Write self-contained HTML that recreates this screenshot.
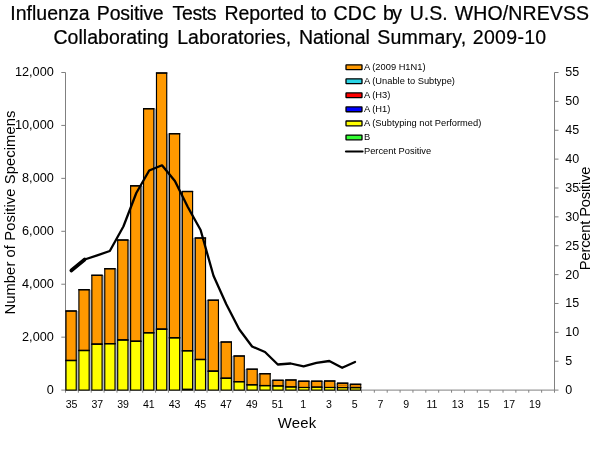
<!DOCTYPE html>
<html><head><meta charset="utf-8"><title>Influenza Positive Tests</title>
<style>html,body{margin:0;padding:0;background:#fff}svg{display:block}text{font-family:"Liberation Sans",Arial,sans-serif;fill:#000}</style>
</head><body>
<svg width="600" height="450" viewBox="0 0 600 450">
<rect width="600" height="450" fill="#fff"/>
<text y="19.7" font-size="19.5" stroke="#000" stroke-width="0.22">
<tspan x="10.24" textLength="79.28" lengthAdjust="spacing">Influenza</tspan>
<tspan x="96.84" textLength="66.87" lengthAdjust="spacing">Positive</tspan>
<tspan x="172.61" textLength="43.98" lengthAdjust="spacing">Tests</tspan>
<tspan x="224.44" textLength="79.66" lengthAdjust="spacing">Reported</tspan>
<tspan x="310.81" textLength="15.90" lengthAdjust="spacing">to</tspan>
<tspan x="333.42" textLength="42.80" lengthAdjust="spacing">CDC</tspan>
<tspan x="383.03" textLength="18.97" lengthAdjust="spacing">by</tspan>
<tspan x="409.63" textLength="38.08" lengthAdjust="spacing">U.S.</tspan>
<tspan x="454.70" textLength="134.32" lengthAdjust="spacing">WHO/NREVSS</tspan>
</text>
<text y="44.1" font-size="19.5" stroke="#000" stroke-width="0.22">
<tspan x="53.52" textLength="115.07" lengthAdjust="spacing">Collaborating</tspan>
<tspan x="177.19" textLength="114.02" lengthAdjust="spacing">Laboratories,</tspan>
<tspan x="298.94" textLength="71.02" lengthAdjust="spacing">National</tspan>
<tspan x="377.22" textLength="88.99" lengthAdjust="spacing">Summary,</tspan>
<tspan x="472.77" textLength="73.43" lengthAdjust="spacing">2009-10</tspan>
</text>
<g stroke="#808080" stroke-width="1" fill="none">
<path d="M65.5 72.5 V390.1 H554.5 V72.5"/>
<path d="M61.3 390.10 H65.5"/>
<path d="M61.3 337.17 H65.5"/>
<path d="M61.3 284.23 H65.5"/>
<path d="M61.3 231.30 H65.5"/>
<path d="M61.3 178.37 H65.5"/>
<path d="M61.3 125.43 H65.5"/>
<path d="M61.3 72.50 H65.5"/>
<path d="M554.5 390.10 H558.5"/>
<path d="M554.5 361.23 H558.5"/>
<path d="M554.5 332.35 H558.5"/>
<path d="M554.5 303.48 H558.5"/>
<path d="M554.5 274.61 H558.5"/>
<path d="M554.5 245.74 H558.5"/>
<path d="M554.5 216.86 H558.5"/>
<path d="M554.5 187.99 H558.5"/>
<path d="M554.5 159.12 H558.5"/>
<path d="M554.5 130.25 H558.5"/>
<path d="M554.5 101.37 H558.5"/>
<path d="M554.5 72.50 H558.5"/>
<path d="M65.50 390.1 V392.70000000000005"/>
<path d="M78.37 390.1 V392.70000000000005"/>
<path d="M91.24 390.1 V392.70000000000005"/>
<path d="M104.11 390.1 V392.70000000000005"/>
<path d="M116.97 390.1 V392.70000000000005"/>
<path d="M129.84 390.1 V392.70000000000005"/>
<path d="M142.71 390.1 V392.70000000000005"/>
<path d="M155.58 390.1 V392.70000000000005"/>
<path d="M168.45 390.1 V392.70000000000005"/>
<path d="M181.32 390.1 V392.70000000000005"/>
<path d="M194.18 390.1 V392.70000000000005"/>
<path d="M207.05 390.1 V392.70000000000005"/>
<path d="M219.92 390.1 V392.70000000000005"/>
<path d="M232.79 390.1 V392.70000000000005"/>
<path d="M245.66 390.1 V392.70000000000005"/>
<path d="M258.53 390.1 V392.70000000000005"/>
<path d="M271.39 390.1 V392.70000000000005"/>
<path d="M284.26 390.1 V392.70000000000005"/>
<path d="M297.13 390.1 V392.70000000000005"/>
<path d="M310.00 390.1 V392.70000000000005"/>
<path d="M322.87 390.1 V392.70000000000005"/>
<path d="M335.74 390.1 V392.70000000000005"/>
<path d="M348.61 390.1 V392.70000000000005"/>
<path d="M361.47 390.1 V392.70000000000005"/>
<path d="M374.34 390.1 V392.70000000000005"/>
<path d="M387.21 390.1 V392.70000000000005"/>
<path d="M400.08 390.1 V392.70000000000005"/>
<path d="M412.95 390.1 V392.70000000000005"/>
<path d="M425.82 390.1 V392.70000000000005"/>
<path d="M438.68 390.1 V392.70000000000005"/>
<path d="M451.55 390.1 V392.70000000000005"/>
<path d="M464.42 390.1 V392.70000000000005"/>
<path d="M477.29 390.1 V392.70000000000005"/>
<path d="M490.16 390.1 V392.70000000000005"/>
<path d="M503.03 390.1 V392.70000000000005"/>
<path d="M515.89 390.1 V392.70000000000005"/>
<path d="M528.76 390.1 V392.70000000000005"/>
<path d="M541.63 390.1 V392.70000000000005"/>
<path d="M554.50 390.1 V392.70000000000005"/>
</g>
<rect x="76.50" y="311.00" width="2.13" height="79.10" fill="#b0b8c4"/>
<rect x="89.43" y="289.70" width="2.13" height="100.40" fill="#b0b8c4"/>
<rect x="102.36" y="275.30" width="2.13" height="114.80" fill="#b0b8c4"/>
<rect x="115.29" y="268.70" width="2.13" height="121.40" fill="#b0b8c4"/>
<rect x="128.22" y="240.00" width="2.13" height="150.10" fill="#b0b8c4"/>
<rect x="141.15" y="185.80" width="2.13" height="204.30" fill="#b0b8c4"/>
<rect x="154.08" y="108.70" width="2.13" height="281.40" fill="#b0b8c4"/>
<rect x="167.01" y="133.70" width="2.13" height="256.40" fill="#b0b8c4"/>
<rect x="179.94" y="191.50" width="2.13" height="198.60" fill="#b0b8c4"/>
<rect x="192.87" y="238.00" width="2.13" height="152.10" fill="#b0b8c4"/>
<rect x="205.80" y="300.20" width="2.13" height="89.90" fill="#b0b8c4"/>
<rect x="218.73" y="342.00" width="2.13" height="48.10" fill="#b0b8c4"/>
<rect x="231.66" y="356.00" width="2.13" height="34.10" fill="#b0b8c4"/>
<rect x="244.59" y="369.20" width="2.13" height="20.90" fill="#b0b8c4"/>
<rect x="257.52" y="373.70" width="2.13" height="16.40" fill="#b0b8c4"/>
<rect x="270.45" y="380.30" width="2.13" height="9.80" fill="#b0b8c4"/>
<rect x="283.38" y="380.30" width="2.13" height="9.80" fill="#b0b8c4"/>
<rect x="296.31" y="381.20" width="2.13" height="8.90" fill="#b0b8c4"/>
<rect x="309.24" y="381.20" width="2.13" height="8.90" fill="#b0b8c4"/>
<rect x="322.17" y="381.20" width="2.13" height="8.90" fill="#b0b8c4"/>
<rect x="335.10" y="383.20" width="2.13" height="6.90" fill="#b0b8c4"/>
<rect x="348.03" y="384.30" width="2.13" height="5.80" fill="#b0b8c4"/>
<g stroke="#000" stroke-width="1.15">
<rect x="65.98" y="311.00" width="10.25" height="49.50" fill="#ff9900"/>
<rect x="65.98" y="360.50" width="10.25" height="29.60" fill="#ffff00"/>
<path d="M65.40 360.50 h11.40" stroke-width="1.4"/>
<path d="M65.40 311.00 h11.40" stroke-width="1.35"/>
<rect x="78.91" y="289.70" width="10.25" height="60.80" fill="#ff9900"/>
<rect x="78.91" y="350.50" width="10.25" height="39.60" fill="#ffff00"/>
<path d="M78.33 350.50 h11.40" stroke-width="1.4"/>
<path d="M78.33 289.70 h11.40" stroke-width="1.35"/>
<rect x="91.84" y="275.30" width="10.25" height="68.90" fill="#ff9900"/>
<rect x="91.84" y="344.20" width="10.25" height="45.90" fill="#ffff00"/>
<path d="M91.26 344.20 h11.40" stroke-width="1.4"/>
<path d="M91.26 275.30 h11.40" stroke-width="1.35"/>
<rect x="104.77" y="268.70" width="10.25" height="75.00" fill="#ff9900"/>
<rect x="104.77" y="343.70" width="10.25" height="46.40" fill="#ffff00"/>
<path d="M104.19 343.70 h11.40" stroke-width="1.4"/>
<path d="M104.19 268.70 h11.40" stroke-width="1.35"/>
<rect x="117.70" y="240.00" width="10.25" height="100.00" fill="#ff9900"/>
<rect x="117.70" y="340.00" width="10.25" height="50.10" fill="#ffff00"/>
<path d="M117.12 340.00 h11.40" stroke-width="1.4"/>
<path d="M117.12 240.00 h11.40" stroke-width="1.35"/>
<rect x="130.62" y="185.80" width="10.25" height="155.50" fill="#ff9900"/>
<rect x="130.62" y="341.30" width="10.25" height="48.80" fill="#ffff00"/>
<path d="M130.05 341.30 h11.40" stroke-width="1.4"/>
<path d="M130.05 185.80 h11.40" stroke-width="1.35"/>
<rect x="143.56" y="108.70" width="10.25" height="224.10" fill="#ff9900"/>
<rect x="143.56" y="332.80" width="10.25" height="57.30" fill="#ffff00"/>
<path d="M142.98 332.80 h11.40" stroke-width="1.4"/>
<path d="M142.98 108.70 h11.40" stroke-width="1.35"/>
<rect x="156.48" y="73.00" width="10.25" height="256.20" fill="#ff9900"/>
<rect x="156.48" y="329.20" width="10.25" height="60.90" fill="#ffff00"/>
<path d="M155.91 329.20 h11.40" stroke-width="1.4"/>
<path d="M155.91 73.00 h11.40" stroke-width="1.35"/>
<rect x="169.41" y="133.70" width="10.25" height="204.10" fill="#ff9900"/>
<rect x="169.41" y="337.80" width="10.25" height="52.30" fill="#ffff00"/>
<path d="M168.84 337.80 h11.40" stroke-width="1.4"/>
<path d="M168.84 133.70 h11.40" stroke-width="1.35"/>
<rect x="182.34" y="191.50" width="10.25" height="159.30" fill="#ff9900"/>
<rect x="182.34" y="350.80" width="10.25" height="39.30" fill="#ffff00"/>
<path d="M181.77 350.80 h11.40" stroke-width="1.4"/>
<path d="M181.77 191.50 h11.40" stroke-width="1.35"/>
<rect x="195.28" y="238.00" width="10.25" height="121.50" fill="#ff9900"/>
<rect x="195.28" y="359.50" width="10.25" height="30.60" fill="#ffff00"/>
<path d="M194.70 359.50 h11.40" stroke-width="1.4"/>
<path d="M194.70 238.00 h11.40" stroke-width="1.35"/>
<rect x="208.20" y="300.20" width="10.25" height="71.00" fill="#ff9900"/>
<rect x="208.20" y="371.20" width="10.25" height="18.90" fill="#ffff00"/>
<path d="M207.63 371.20 h11.40" stroke-width="1.4"/>
<path d="M207.63 300.20 h11.40" stroke-width="1.35"/>
<rect x="221.13" y="342.00" width="10.25" height="36.30" fill="#ff9900"/>
<rect x="221.13" y="378.30" width="10.25" height="11.80" fill="#ffff00"/>
<path d="M220.56 378.30 h11.40" stroke-width="1.4"/>
<path d="M220.56 342.00 h11.40" stroke-width="1.35"/>
<rect x="234.06" y="356.00" width="10.25" height="25.70" fill="#ff9900"/>
<rect x="234.06" y="381.70" width="10.25" height="8.40" fill="#ffff00"/>
<path d="M233.49 381.70 h11.40" stroke-width="1.4"/>
<path d="M233.49 356.00 h11.40" stroke-width="1.35"/>
<rect x="246.99" y="369.20" width="10.25" height="15.60" fill="#ff9900"/>
<rect x="246.99" y="384.80" width="10.25" height="5.30" fill="#ffff00"/>
<path d="M246.42 384.80 h11.40" stroke-width="1.4"/>
<path d="M246.42 369.20 h11.40" stroke-width="1.35"/>
<rect x="259.93" y="373.70" width="10.25" height="11.90" fill="#ff9900"/>
<rect x="259.93" y="385.60" width="10.25" height="4.50" fill="#ffff00"/>
<path d="M259.35 385.60 h11.40" stroke-width="1.4"/>
<path d="M259.35 373.70 h11.40" stroke-width="1.35"/>
<rect x="272.85" y="380.30" width="10.25" height="5.70" fill="#ff9900"/>
<rect x="272.85" y="386.00" width="10.25" height="4.10" fill="#ffff00"/>
<path d="M272.28 386.00 h11.40" stroke-width="1.0"/>
<path d="M272.28 380.30 h11.40" stroke-width="1.35"/>
<rect x="285.79" y="380.00" width="10.25" height="7.00" fill="#ff9900"/>
<rect x="285.79" y="387.00" width="10.25" height="3.10" fill="#ffff00"/>
<path d="M285.21 387.00 h11.40" stroke-width="1.0"/>
<path d="M285.21 380.00 h11.40" stroke-width="1.35"/>
<rect x="298.71" y="381.20" width="10.25" height="6.30" fill="#ff9900"/>
<rect x="298.71" y="387.50" width="10.25" height="2.60" fill="#ffff00"/>
<path d="M298.14 387.50 h11.40" stroke-width="1.0"/>
<path d="M298.14 381.20 h11.40" stroke-width="1.35"/>
<rect x="311.64" y="381.20" width="10.25" height="6.00" fill="#ff9900"/>
<rect x="311.64" y="387.20" width="10.25" height="2.90" fill="#ffff00"/>
<path d="M311.07 387.20 h11.40" stroke-width="1.0"/>
<path d="M311.07 381.20 h11.40" stroke-width="1.35"/>
<rect x="324.57" y="381.00" width="10.25" height="6.50" fill="#ff9900"/>
<rect x="324.57" y="387.50" width="10.25" height="2.60" fill="#ffff00"/>
<path d="M324.00 387.50 h11.40" stroke-width="1.0"/>
<path d="M324.00 381.00 h11.40" stroke-width="1.35"/>
<rect x="337.50" y="383.20" width="10.25" height="4.40" fill="#ff9900"/>
<rect x="337.50" y="387.60" width="10.25" height="2.50" fill="#ffff00"/>
<path d="M336.93 387.60 h11.40" stroke-width="1.0"/>
<path d="M336.93 383.20 h11.40" stroke-width="1.35"/>
<rect x="350.44" y="384.30" width="10.25" height="3.40" fill="#ff9900"/>
<rect x="350.44" y="387.70" width="10.25" height="2.40" fill="#ffff00"/>
<path d="M349.86 387.70 h11.40" stroke-width="1.0"/>
<path d="M349.86 384.30 h11.40" stroke-width="1.35"/>
</g>
<path d="M336.93 385.3 h11.40" stroke="#a05a00" stroke-width="0.6"/>
<path d="M349.86 386.2 h11.40" stroke="#a05a00" stroke-width="0.6"/>
<rect x="182.37" y="388.6" width="10.25" height="1.4" fill="#000"/>
<g font-size="12.7" text-anchor="end">
<text x="53.8" y="393.90">0</text>
<text x="53.8" y="340.97">2,000</text>
<text x="53.8" y="288.03">4,000</text>
<text x="53.8" y="235.10">6,000</text>
<text x="53.8" y="182.17">8,000</text>
<text x="53.8" y="129.23">10,000</text>
<text x="53.8" y="76.30">12,000</text>
</g>
<g font-size="12.5" text-anchor="start">
<text x="565.2" y="394.00">0</text>
<text x="565.2" y="365.13">5</text>
<text x="565.2" y="336.25">10</text>
<text x="565.2" y="307.38">15</text>
<text x="565.2" y="278.51">20</text>
<text x="565.2" y="249.64">25</text>
<text x="565.2" y="220.76">30</text>
<text x="565.2" y="191.89">35</text>
<text x="565.2" y="163.02">40</text>
<text x="565.2" y="134.15">45</text>
<text x="565.2" y="105.27">50</text>
<text x="565.2" y="76.40">55</text>
</g>
<g font-size="10" text-anchor="middle">
<text transform="translate(71.63 408) scale(1.06 1)">35</text>
<text transform="translate(97.37 408) scale(1.06 1)">37</text>
<text transform="translate(123.11 408) scale(1.06 1)">39</text>
<text transform="translate(148.84 408) scale(1.06 1)">41</text>
<text transform="translate(174.58 408) scale(1.06 1)">43</text>
<text transform="translate(200.32 408) scale(1.06 1)">45</text>
<text transform="translate(226.06 408) scale(1.06 1)">47</text>
<text transform="translate(251.79 408) scale(1.06 1)">49</text>
<text transform="translate(277.53 408) scale(1.06 1)">51</text>
<text transform="translate(303.27 408) scale(1.06 1)">1</text>
<text transform="translate(329.00 408) scale(1.06 1)">3</text>
<text transform="translate(354.74 408) scale(1.06 1)">5</text>
<text transform="translate(380.48 408) scale(1.06 1)">7</text>
<text transform="translate(406.21 408) scale(1.06 1)">9</text>
<text transform="translate(431.95 408) scale(1.06 1)">11</text>
<text transform="translate(457.69 408) scale(1.06 1)">13</text>
<text transform="translate(483.42 408) scale(1.06 1)">15</text>
<text transform="translate(509.16 408) scale(1.06 1)">17</text>
<text transform="translate(534.90 408) scale(1.06 1)">19</text>
</g>
<polyline points="71.3,270.5 84.7,259.5 97.2,255.4 109.8,251 123.4,226.5 136.3,193 149.2,170.5 162,165.3 174.9,181 187.8,207 200.6,230 213.5,275.8 226.3,304.2 239.2,329.2 252.1,346.5 265,352 277.8,364.5 290.7,363.5 303.6,366.3 316.4,362.8 329.3,361 342.2,367.8 355,362" fill="none" stroke="#000" stroke-width="2.3" stroke-linejoin="round" stroke-linecap="round"/>
<path d="M71.3 270.5 L84.7 259.5" stroke="#000" stroke-width="3.6" stroke-linecap="round" fill="none"/>
<text transform="translate(15.3 314.6) rotate(-90)" font-size="14.8" textLength="204" lengthAdjust="spacing">Number of Positive Specimens</text>
<text transform="translate(589.9 270.2) rotate(-90)" font-size="14.7" textLength="103.6" lengthAdjust="spacing">Percent Positive</text>
<text x="277.8" y="428.2" font-size="14.9" textLength="38.4" lengthAdjust="spacing">Week</text>
<g font-size="9.3">
<rect x="346" y="64.80" width="16" height="4.8" rx="0.4" fill="#ff9900" stroke="#000" stroke-width="1.3"/>
<text x="364" y="70.10">A (2009 H1N1)</text>
<rect x="346" y="78.85" width="16" height="4.8" rx="0.4" fill="#2ad4e6" stroke="#000" stroke-width="1.3"/>
<text x="364" y="84.15">A (Unable to Subtype)</text>
<rect x="346" y="92.90" width="16" height="4.8" rx="0.4" fill="#ff0000" stroke="#000" stroke-width="1.3"/>
<text x="364" y="98.20">A (H3)</text>
<rect x="346" y="106.95" width="16" height="4.8" rx="0.4" fill="#0000ff" stroke="#000" stroke-width="1.3"/>
<text x="364" y="112.25">A (H1)</text>
<rect x="346" y="121.00" width="16" height="4.8" rx="0.4" fill="#ffff00" stroke="#000" stroke-width="1.3"/>
<text x="364" y="126.30">A (Subtyping not Performed)</text>
<rect x="346" y="135.05" width="16" height="4.8" rx="0.4" fill="#33ff33" stroke="#000" stroke-width="1.3"/>
<text x="364" y="140.35">B</text>
<path d="M346 151.50 H362.5" stroke="#000" stroke-width="2.2" stroke-linecap="round"/>
<text x="364" y="154.40">Percent Positive</text>
</g>
</svg>
</body></html>
